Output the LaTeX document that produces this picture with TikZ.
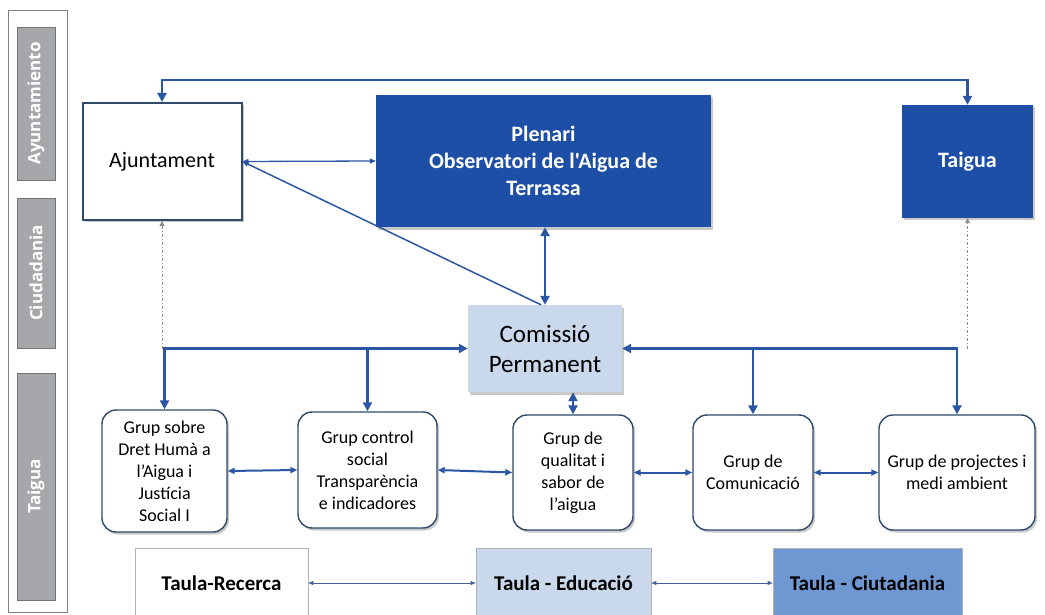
\documentclass[tikz,border=0pt]{standalone}
\usepackage{fontspec}
\setmainfont{Carlito}[Ligatures=TeXOff]
\newfontfamily\sidefont{Open Sans}
\usetikzlibrary{arrows.meta,shadows}
\definecolor{dblue}{HTML}{1E4FA7}
\definecolor{ablue}{HTML}{2B56A3}
\definecolor{lblue}{HTML}{CAD8EC}
\definecolor{mblue}{HTML}{6F98D2}
\definecolor{gborder}{HTML}{2F4A6B}
\definecolor{sidegray}{HTML}{A5A7AA}
\tikzset{
  shad/.style={drop shadow={shadow xshift=2pt,shadow yshift=-2.5pt,fill=black!35,opacity=0.6}},
  topbox/.style={shad,align=center,inner sep=0pt,font=\fontsize{22}{27}\selectfont},
  darkbox/.style={topbox,fill=dblue,text=white,font=\fontsize{22}{27}\selectfont\bfseries},
  grpbox/.style={draw=gborder,line width=1.4pt,fill=white,rounded corners=14pt,shad,align=center,inner sep=0pt,font=\fontsize{18}{22}\selectfont},
  taulabox/.style={draw=black!30,line width=0.6pt,align=center,inner sep=0pt,minimum height=70pt,font=\fontsize{21}{25}\selectfont\bfseries},
  sidebar/.style={fill=sidegray,draw=black!55,line width=0.8pt,minimum height=38pt,inner sep=0pt,rotate=90,text=white,font=\sidefont\bfseries\fontsize{17}{20}\selectfont},
  bus/.style={draw=ablue,line width=2.6pt,arrows={-Triangle[length=9pt,width=9pt]}},
  busboth/.style={draw=ablue,line width=2.6pt,arrows={Triangle[length=9pt,width=9pt]-Triangle[length=9pt,width=9pt]}},
  thinarr/.style={draw=ablue,line width=1.3pt,arrows={Triangle[length=6pt,width=5pt]-Triangle[length=6pt,width=5pt]}},
  grparr/.style={draw=ablue,line width=2pt,arrows={Triangle[length=7pt,width=6pt]-Triangle[length=7pt,width=6pt]}},
  taularr/.style={draw=ablue!70!gray,line width=0.7pt,arrows={Triangle[length=5pt,width=4pt]-Triangle[length=5pt,width=4pt]}},
  dotline/.style={draw=black!45,line width=0.8pt,dash pattern=on 3pt off 2pt on 1pt off 2pt,arrows={-Triangle[length=5pt,width=5pt]}}
}
\begin{document}
\begin{tikzpicture}[x=1pt,y=-1pt]
\useasboundingbox (0,0) rectangle (1045,615);
\fill[white] (0,0) rectangle (1045,615);
% side panel
\draw[black!50,line width=0.8pt] (8,10) rectangle (67,612);
\node[sidebar,minimum width=153pt] (sAy) at (36,103.5) {Ayuntamiento};
\node[sidebar,minimum width=150pt] (sCi) at (36,273) {Ciudadania};
\node[sidebar,minimum width=227pt] (sTa) at (36,486.5) {Taigua};
% top boxes
\node[topbox,draw=gborder,line width=2pt,fill=white,minimum width=159pt,minimum height=117pt] (ajt) at (162,161.5) {Ajuntament};
\node[darkbox,minimum width=335pt,minimum height=132pt] (plen) at (543.5,161) {Plenari\\Observatori de l'Aigua de\\Terrassa};
\node[darkbox,minimum width=131pt,minimum height=113pt] (taig) at (967.5,161.5) {Taigua};
% comissio
\node[topbox,fill=lblue,minimum width=154pt,minimum height=87pt,font=\fontsize{25}{30}\selectfont] (com) at (545,348.5) {Comissió\\Permanent};
% groups
\node[grpbox,minimum width=125pt,minimum height=122pt] (g1) at (164.5,471) {Grup sobre\\Dret Humà a\\l’Aigua i\\Justícia\\Social I};
\node[grpbox,minimum width=139pt,minimum height=116pt] (g2) at (367.5,470) {Grup control\\social\\Transparència\\e indicadores};
\node[grpbox,minimum width=120pt,minimum height=115pt] (g3) at (573,472.5) {Grup de\\qualitat i\\sabor de\\l’aigua};
\node[grpbox,minimum width=120pt,minimum height=115pt] (g4) at (753,472.5) {Grup de\\Comunicació};
\node[grpbox,minimum width=156pt,minimum height=115pt] (g5) at (957,472.5) {Grup de projectes i\\medi ambient};
% taules
\node[taulabox,fill=white,minimum width=173pt] (t1) at (221.5,583) {Taula-Recerca};
\node[taulabox,fill=lblue,minimum width=175pt] (t2) at (563.5,583) {Taula - Educació};
\node[taulabox,fill=mblue,minimum width=189pt] (t3) at (867.5,583) {Taula - Ciutadania};
% connectors
\coordinate (topy) at (0,80);
\draw[busboth,line width=2.4pt] (ajt.north) -- (ajt.north |- topy) -| (taig.north);
\draw[thinarr] (ajt.east) -- (plen.west);
\draw[draw=ablue,line width=1.5pt,arrows={Triangle[length=6pt,width=5pt]-}] (ajt.east) -- ([xshift=-4pt]com.north);
\draw[busboth] (com.north) -- (com.north |- plen.south);
\draw[busboth] (g1.north) |- (com.west);
\draw[busboth] (g5.north) |- (com.east);
\draw[bus] (g2.north |- com.west) -- (g2.north);
\draw[bus] (g4.north |- com.east) -- (g4.north);
\draw[busboth] (g3.north |- com.south) -- (g3.north);
\draw[dotline] (ajt.south |- com.west) -- (ajt.south);
\draw[dotline] (taig.south |- com.east) -- (taig.south);
\draw[grparr] (g1.east) -- (g2.west);
\draw[grparr] (g2.east) -- (g3.west);
\draw[grparr] (g3.east) -- (g4.west);
\draw[grparr] (g4.east) -- (g5.west);
\draw[taularr] (t1.east) -- (t2.west);
\draw[taularr] (t2.east) -- (t3.west);
\end{tikzpicture}
\end{document}
